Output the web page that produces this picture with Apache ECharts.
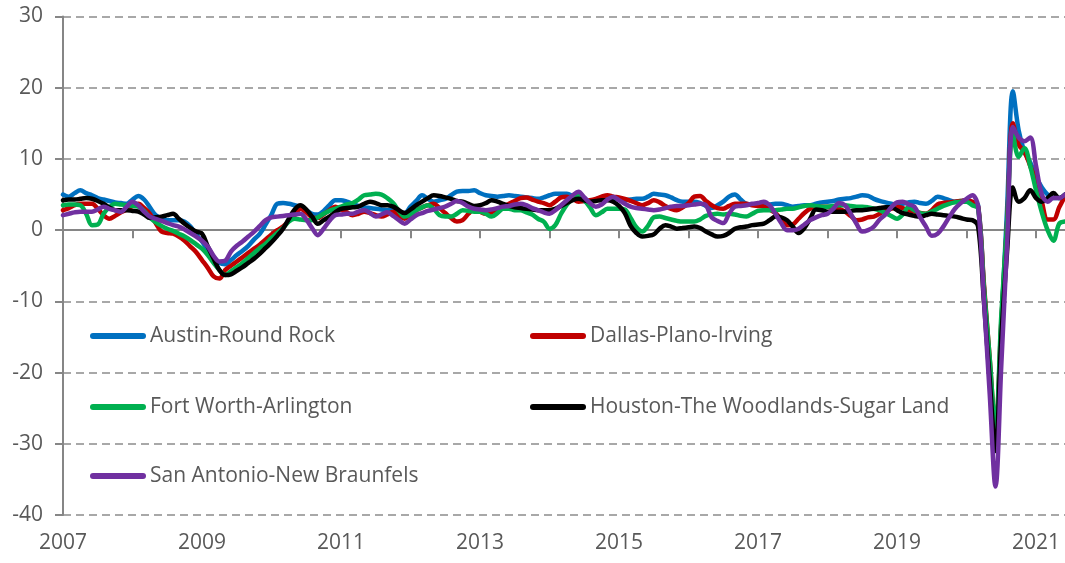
<!DOCTYPE html>
<html>
<head>
<meta charset="utf-8">
<script src="https://cdn.jsdelivr.net/npm/echarts@6/dist/echarts.min.js"></script>
<style>
html,body{margin:0;padding:0;background:#fff;}
#chart{width:1065px;height:563px;}
</style>
</head>
<body>
<div id="chart"></div>
<script>
// Monthly, Jan 2007 .. Jun 2021
var seriesNames = ['Austin-Round Rock','Dallas-Plano-Irving','Fort Worth-Arlington','Houston-The Woodlands-Sugar Land','San Antonio-New Braunfels'];
var tickLabels = ['2007','2009','2011','2013','2015','2017','2019','2021'];

var austin = [
5.0,4.7,5.2,5.6,5.2,4.9,4.5,4.3,4.1,3.9,3.8,3.7,
4.3,4.8,4.3,3.2,2.1,1.6,1.4,1.4,1.4,1.2,0.5,-0.6,
-1.6,-2.8,-3.8,-4.6,-4.8,-4.2,-3.5,-2.9,-2.2,-1.3,-0.5,0.8,
2.2,3.7,3.8,3.7,3.5,3.3,2.8,2.3,2.2,2.7,3.5,4.2,
4.2,4.0,3.7,3.4,3.2,3.1,3.0,2.9,2.8,3.0,2.6,2.4,
3.3,4.1,4.9,4.4,4.0,4.2,4.4,4.9,5.4,5.5,5.5,5.6,
5.2,4.9,4.8,4.7,4.8,4.9,4.8,4.7,4.6,4.5,4.4,4.6,
4.9,5.1,5.1,5.1,4.8,4.4,4.1,4.0,4.2,4.5,4.7,4.5,
4.3,4.2,4.3,4.4,4.4,4.7,5.1,5.0,4.9,4.6,4.2,4.0,
4.0,4.0,3.8,3.4,3.1,3.5,4.0,4.7,5.0,4.3,3.7,3.6,
3.5,3.5,3.6,3.7,3.7,3.5,3.3,3.4,3.5,3.5,3.7,3.9,
4.0,4.1,4.3,4.4,4.5,4.7,4.9,4.8,4.4,4.1,3.9,3.7,
3.5,3.7,3.9,4.0,3.8,3.7,4.1,4.7,4.5,4.2,4.0,4.1,
4.2,3.9,3.5,-8.0,-19.0,-30.0,-13.5,3.0,19.5,14.0,11.0,9.5,
7.5,6.0,5.0,4.5,4.5,5.0
];
var dallas = [
2.8,3.1,3.5,3.7,3.7,3.7,3.0,2.1,1.6,2.0,2.5,2.9,
3.4,3.7,3.1,2.3,1.0,-0.2,-0.4,-0.5,-0.9,-1.5,-2.3,-3.1,
-4.2,-5.3,-6.5,-6.8,-5.6,-5.0,-4.4,-3.8,-3.2,-2.6,-2.0,-1.3,
-0.6,0.0,0.5,1.3,2.1,3.0,2.5,1.8,1.7,2.2,2.8,3.3,
2.9,2.5,2.1,2.3,2.6,2.4,2.1,1.9,2.2,2.6,2.0,1.6,
2.2,2.8,3.2,3.5,3.7,3.1,2.4,1.7,1.2,1.4,2.3,3.0,
2.6,2.3,2.5,3.0,3.3,3.7,4.1,4.5,4.6,4.3,4.0,3.8,
3.5,4.0,4.6,4.7,4.4,4.0,4.1,4.2,4.4,4.7,4.9,4.7,
4.6,4.4,4.1,3.8,3.5,3.8,4.2,3.9,3.4,3.0,2.8,3.2,
3.8,4.7,4.8,4.1,3.5,3.1,3.0,3.4,3.7,3.7,3.7,3.5,
3.4,3.3,2.9,2.4,1.5,0.7,0.8,1.6,2.4,3.0,3.2,3.3,
3.3,3.2,3.0,2.6,2.0,1.4,1.5,1.8,1.9,2.3,2.8,3.0,
3.3,3.1,2.8,2.6,2.4,2.3,2.8,3.6,3.8,3.9,4.0,4.1,
4.2,4.0,3.3,-7.5,-18.0,-28.0,-13.0,1.0,15.0,12.0,11.0,9.0,
7.0,4.0,1.5,1.5,3.2,4.8
];
var fortWorth = [
3.5,3.6,3.6,3.5,2.3,0.7,0.8,2.3,3.2,3.7,3.6,3.5,
3.4,3.3,2.7,1.8,1.1,0.6,0.2,-0.1,-0.5,-0.9,-1.4,-2.0,
-2.6,-3.5,-4.6,-5.6,-6.3,-5.8,-5.2,-4.6,-3.9,-3.2,-2.5,-1.9,
-1.1,-0.4,0.3,1.2,1.6,1.5,1.4,1.4,1.8,2.3,2.7,3.0,
3.3,3.6,3.8,4.3,4.9,5.0,5.1,5.0,4.5,3.8,2.7,1.9,
2.2,2.8,3.2,3.5,3.0,2.1,1.9,1.9,2.3,2.8,2.7,2.6,
2.6,2.3,1.9,2.4,3.0,3.0,2.8,2.8,2.5,2.2,1.6,1.2,
0.2,0.7,2.3,3.6,4.4,4.9,4.2,3.2,2.1,2.5,3.0,3.0,
3.0,2.9,1.7,0.4,-0.2,0.6,1.8,1.9,1.7,1.5,1.3,1.2,
1.2,1.2,1.5,2.0,2.2,2.3,2.2,2.3,2.2,2.0,1.9,2.3,
2.7,2.8,2.8,2.8,2.9,3.0,3.0,3.2,3.4,3.5,3.4,3.3,
3.3,3.4,3.5,3.5,3.4,3.3,3.3,3.2,3.0,2.8,2.4,2.0,
1.6,2.2,3.2,2.8,2.4,2.3,2.6,3.0,3.4,3.7,3.9,4.0,
4.0,3.5,3.0,-8.0,-18.0,-28.0,-12.0,1.0,13.5,10.3,11.5,9.0,
5.6,2.5,0.0,-1.5,0.9,1.2
];
var houston = [
4.2,4.3,4.3,4.4,4.5,4.4,4.1,3.7,3.2,2.8,2.8,2.8,
2.7,2.6,2.2,1.7,1.8,1.9,2.1,2.3,1.6,0.9,0.3,-0.2,
-0.5,-2.3,-4.0,-5.6,-6.3,-6.2,-5.7,-5.2,-4.6,-4.0,-3.3,-2.5,
-1.7,-0.8,0.2,1.6,2.9,3.5,2.9,1.9,0.9,1.4,1.9,2.5,
3.0,3.1,3.2,3.3,3.7,4.0,3.8,3.5,3.5,3.3,2.8,2.4,
2.9,3.5,4.0,4.5,4.9,4.8,4.6,4.4,4.1,4.0,3.7,3.4,
3.5,3.8,4.2,4.0,3.7,3.4,3.2,3.1,3.0,2.9,2.8,2.8,
2.8,3.0,3.4,3.8,4.2,4.4,4.2,4.0,4.1,4.2,4.2,4.0,
3.4,2.4,0.6,-0.4,-0.9,-0.8,-0.6,0.2,0.7,0.5,0.2,0.3,
0.4,0.5,0.3,-0.2,-0.6,-0.9,-0.8,-0.4,0.2,0.4,0.5,0.7,
0.8,0.9,1.4,1.9,1.8,1.4,0.5,-0.4,0.3,1.6,2.9,2.8,
2.6,2.6,2.6,2.6,2.7,2.8,2.8,2.9,3.0,3.1,3.2,3.2,
2.8,2.4,2.2,2.0,1.9,2.1,2.3,2.2,2.1,2.0,1.9,1.7,
1.5,1.4,0.5,-10.0,-21.0,-31.0,-15.0,-3.0,6.0,4.0,4.5,5.6,
4.5,4.0,4.5,5.2,4.5,5.0
];
var sanAntonio = [
2.1,2.3,2.5,2.6,2.6,2.6,2.9,3.3,3.0,2.8,2.6,3.3,
4.0,3.5,2.6,1.9,1.6,1.3,1.0,0.7,0.5,0.1,-0.4,-0.9,
-1.5,-2.3,-3.6,-4.4,-4.3,-3.0,-2.2,-1.6,-0.9,-0.2,0.6,1.4,
1.8,1.9,2.0,2.1,2.2,2.3,1.5,0.3,-0.7,0.2,1.3,2.1,
2.2,2.3,2.3,2.6,2.8,2.4,1.9,2.2,2.5,2.0,1.4,0.9,
1.5,2.1,2.4,2.7,2.9,3.1,3.3,3.7,4.1,3.8,3.3,3.0,
2.9,2.8,2.9,3.1,3.3,3.4,3.6,3.7,3.5,3.1,2.8,2.5,
2.3,2.8,3.5,4.2,4.9,5.4,4.6,3.8,3.3,3.6,4.3,4.7,
4.2,3.7,3.3,3.1,3.0,2.9,2.8,2.9,3.1,3.3,3.4,3.4,
3.5,3.6,3.7,3.5,1.8,1.3,1.0,2.3,3.3,3.4,3.5,3.7,
3.8,4.0,3.5,2.3,1.0,0.0,0.0,0.2,0.8,1.4,1.8,2.1,
2.3,3.0,3.8,3.5,2.3,0.9,-0.2,0.0,0.5,1.5,2.2,3.2,
3.9,4.0,3.6,3.3,1.8,0.5,-0.8,-0.5,0.5,1.8,3.0,3.8,
4.4,4.9,3.3,-9.8,-23.0,-36.0,-19.0,-2.0,14.5,13.0,12.5,13.0,
9.0,5.0,4.0,4.5,4.5,5.0
];

var seriesData = [austin, dallas, fortWorth, houston, sanAntonio];
var colors = ['#0070C0','#C00000','#00B050','#000000','#7030A0'];

var months = [];
for (var y = 2007; y <= 2021; y++) {
  for (var mo = 1; mo <= 12; mo++) {
    if (months.length < austin.length) months.push(y + '-' + (mo < 10 ? '0' + mo : mo));
  }
}

var txt = '#595959';
var axisCol = '#868686';
var font = 'Open Sans';

var legendPos = [[90,323],[530,323],[90,394],[530,394],[90,463]];
var capsule = 'path://M3,0 L53,0 A3,3 0 0 1 53,6 L3,6 A3,3 0 0 1 3,0 Z';

var chart = echarts.init(document.getElementById('chart'), null, {renderer:'canvas'});
chart.setOption({
  animation: false,
  backgroundColor: '#ffffff',
  color: colors,
  grid: {left: 63, right: 0, top: 16.5, bottom: 48, containLabel: false},
  legend: seriesNames.map(function(n, i){
    return {
      data: [n], left: legendPos[i][0], top: legendPos[i][1], padding: 0,
      icon: capsule, itemWidth: 56, itemHeight: 6, itemGap: 0,
      textStyle: {color: txt, fontSize: 21, fontFamily: font, lineHeight: 26, padding:[0,0,0,-1]}
    };
  }),
  xAxis: [
    {
      type: 'category', data: months, boundaryGap: false, position: 'bottom',
      axisLine: {show: true, onZero: true, lineStyle: {color: axisCol, width: 2}},
      axisTick: {show: true, length: 8, interval: function(i){ return i % 12 === 0; }, lineStyle: {color: axisCol, width: 2}},
      axisLabel: {show: false},
      splitLine: {show: false}
    },
    {
      type: 'category', data: months, boundaryGap: false, position: 'bottom',
      axisLine: {show: false, onZero: false},
      axisTick: {show: false},
      axisLabel: {
        show: true, color: txt, fontSize: 21, fontFamily: font, margin: 18,
        interval: function(i, v){ return v.slice(5) === '01' && tickLabels.indexOf(v.slice(0,4)) >= 0; },
        formatter: function(v){ return v.slice(0,4); }
      },
      splitLine: {show: false}
    }
  ],
  yAxis: {
    type: 'value', min: -40, max: 30, interval: 10,
    axisLine: {show: true, lineStyle: {color: axisCol, width: 2}},
    axisTick: {show: true, length: 8, lineStyle: {color: axisCol, width: 2}},
    axisLabel: {color: txt, fontSize: 21, fontFamily: font, margin: 20},
    splitLine: {show: true, lineStyle: {color: '#8c8c8c', width: 1.5, type: [8,5]}}
  },
  series: seriesNames.map(function(n, i){
    return {
      name: n, type: 'line', xAxisIndex: 0, data: seriesData[i],
      symbol: 'none', smooth: 0.35,
      lineStyle: {color: colors[i], width: 4.5, cap: 'round', join: 'round'},
      itemStyle: {color: colors[i]},
      z: 2 + i
    };
  })
});
</script>
</body>
</html>
